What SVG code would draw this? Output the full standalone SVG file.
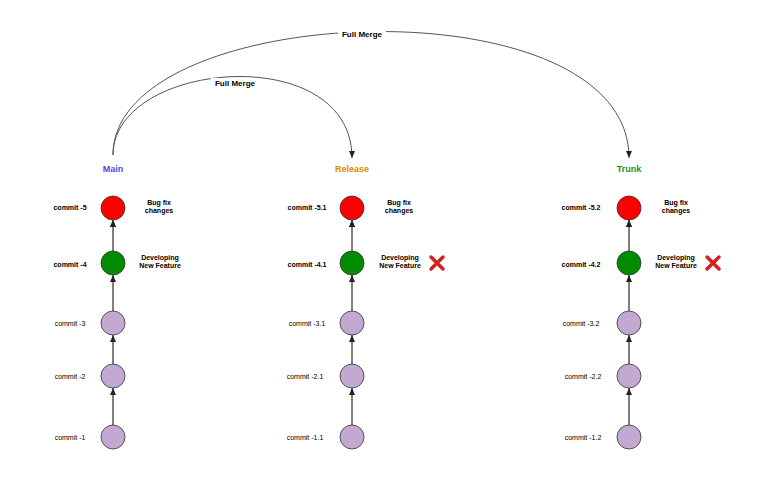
<svg xmlns="http://www.w3.org/2000/svg" width="771" height="504" viewBox="0 0 771 504">
<style>
text{font-family:"Liberation Sans",Arial,sans-serif;font-size:7px;fill:#000}
.b{font-weight:bold}
.t{font-weight:bold;font-size:9px}
.c{stroke:#333;stroke-width:0.8}
.e{stroke:#555;stroke-width:1;fill:none}
.x{stroke:#d61f1f;stroke-width:3.5;stroke-linecap:round}
</style>
<defs><marker id="a" markerWidth="8" markerHeight="8" refX="7" refY="4" orient="auto" markerUnits="userSpaceOnUse"><path d="M0,1 L7,4 L0,7 z" fill="#222"/></marker></defs>
<rect width="771" height="504" fill="#fff"/>
<g id="connectors">
<path class="e" d="M113,155 C113,60 352,40 352,158" marker-end="url(#a)"/>
<path class="e" d="M113,155 C113,0 629,-20 629,158" marker-end="url(#a)"/>
<path class="e" d="M113,425 V388 M113,364 V335 M113,311 V275 M113,251 V220" marker-end="url(#a)"/>
<path class="e" d="M352,425 V388 M352,364 V335 M352,311 V275 M352,251 V220" marker-end="url(#a)"/>
<path class="e" d="M629,425 V388 M629,364 V335 M629,311 V275 M629,251 V220" marker-end="url(#a)"/>
</g>
<g class="e" stroke="none">
<path class="e" d="M113,425 V388" marker-end="url(#a)"/><path class="e" d="M113,364 V335" marker-end="url(#a)"/><path class="e" d="M113,311 V275" marker-end="url(#a)"/><path class="e" d="M113,251 V220" marker-end="url(#a)"/>
<path class="e" d="M352,425 V388" marker-end="url(#a)"/><path class="e" d="M352,364 V335" marker-end="url(#a)"/><path class="e" d="M352,311 V275" marker-end="url(#a)"/><path class="e" d="M352,251 V220" marker-end="url(#a)"/>
<path class="e" d="M629,425 V388" marker-end="url(#a)"/><path class="e" d="M629,364 V335" marker-end="url(#a)"/><path class="e" d="M629,311 V275" marker-end="url(#a)"/><path class="e" d="M629,251 V220" marker-end="url(#a)"/>
</g>
<rect x="338" y="28" width="48" height="11" fill="#fff"/><text class="b" x="362" y="36.5" text-anchor="middle" font-size="8" style="font-size:8px">Full Merge</text>
<rect x="211" y="78" width="48" height="11" fill="#fff"/><text class="b" x="235" y="86" text-anchor="middle" style="font-size:8px">Full Merge</text>
<g id="main">
<text class="t" x="113" y="172" text-anchor="middle" style="fill:#4b4be6">Main</text>
<circle class="c" cx="113" cy="208" r="12" fill="#ff0000"/><circle class="c" cx="113" cy="263" r="12" fill="#008c00"/>
<circle class="c" cx="113" cy="323" r="12" fill="#c3a8d1"/><circle class="c" cx="113" cy="376" r="12" fill="#c3a8d1"/><circle class="c" cx="113" cy="437" r="12" fill="#c3a8d1"/>
<text class="b" x="70" y="210" text-anchor="middle">commit -5</text><text class="b" x="70" y="267" text-anchor="middle">commit -4</text>
<text x="70" y="326" text-anchor="middle">commit -3</text><text x="70" y="379" text-anchor="middle">commit -2</text><text x="70" y="440" text-anchor="middle">commit -1</text>
<text class="b" x="159" y="205" text-anchor="middle">Bug fix</text><text class="b" x="159" y="213" text-anchor="middle">changes</text>
<text class="b" x="160" y="260" text-anchor="middle">Developing</text><text class="b" x="160" y="268" text-anchor="middle">New Feature</text>
</g>
<g id="release">
<text class="t" x="352" y="172" text-anchor="middle" style="fill:#e08a00">Release</text>
<circle class="c" cx="352" cy="208" r="12" fill="#ff0000"/><circle class="c" cx="352" cy="263" r="12" fill="#008c00"/>
<circle class="c" cx="352" cy="323" r="12" fill="#c3a8d1"/><circle class="c" cx="352" cy="376" r="12" fill="#c3a8d1"/><circle class="c" cx="352" cy="437" r="12" fill="#c3a8d1"/>
<text class="b" x="307" y="210" text-anchor="middle">commit -5.1</text><text class="b" x="307" y="267" text-anchor="middle">commit -4.1</text>
<text x="307" y="326" text-anchor="middle">commit -3.1</text><text x="305" y="379" text-anchor="middle">commit -2.1</text><text x="305" y="440" text-anchor="middle">commit -1.1</text>
<text class="b" x="399" y="205" text-anchor="middle">Bug fix</text><text class="b" x="399" y="213" text-anchor="middle">changes</text>
<text class="b" x="400" y="260" text-anchor="middle">Developing</text><text class="b" x="400" y="268" text-anchor="middle">New Feature</text>
<path class="x" d="M431,257 L443,269 M443,257 L431,269"/>
</g>
<g id="trunk">
<text class="t" x="629" y="172" text-anchor="middle" style="fill:#1f8c1f">Trunk</text>
<circle class="c" cx="629" cy="208" r="12" fill="#ff0000"/><circle class="c" cx="629" cy="263" r="12" fill="#008c00"/>
<circle class="c" cx="629" cy="323" r="12" fill="#c3a8d1"/><circle class="c" cx="629" cy="376" r="12" fill="#c3a8d1"/><circle class="c" cx="629" cy="437" r="12" fill="#c3a8d1"/>
<text class="b" x="581" y="210" text-anchor="middle">commit -5.2</text><text class="b" x="581" y="267" text-anchor="middle">commit -4.2</text>
<text x="581" y="326" text-anchor="middle">commit -3.2</text><text x="583" y="379" text-anchor="middle">commit -2.2</text><text x="583" y="440" text-anchor="middle">commit -1.2</text>
<text class="b" x="676" y="205" text-anchor="middle">Bug fix</text><text class="b" x="676" y="213" text-anchor="middle">changes</text>
<text class="b" x="676" y="260" text-anchor="middle">Developing</text><text class="b" x="676" y="268" text-anchor="middle">New Feature</text>
<path class="x" d="M707,257 L719,269 M719,257 L707,269"/>
</g>
</svg>
